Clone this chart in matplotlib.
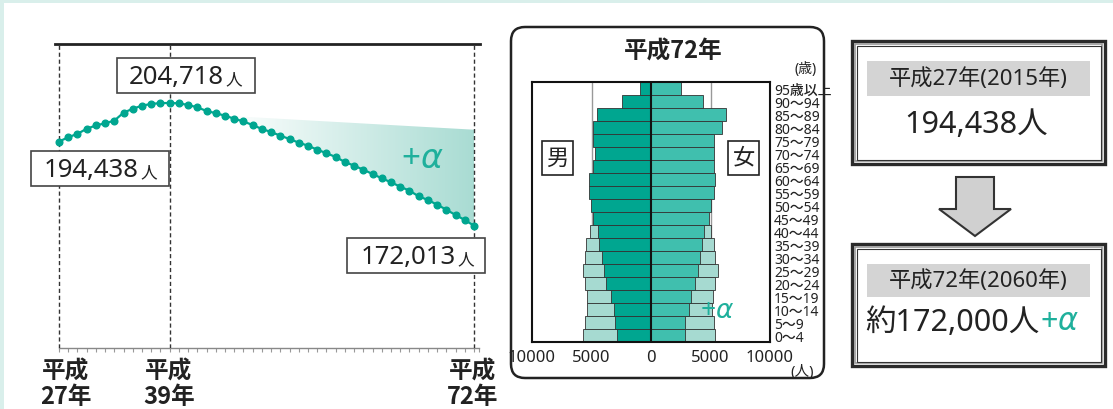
import numpy as np
import matplotlib
matplotlib.use('Agg')
from matplotlib import pyplot as plt
from matplotlib.patches import Rectangle, Polygon, FancyBboxPatch
from matplotlib.colors import LinearSegmentedColormap

plt.rcParams['font.family'] = ['Noto Sans', 'Noto Sans CJK JP']
plt.rcParams['mathtext.fontset'] = 'dejavusans'

# population trend, 平成27年 .. 平成72年
years = list(range(27, 73))
population = [194438, 195595, 196494, 197856, 198730, 199321, 200015, 202148,
              203176, 204024, 204461, 204700, 204718, 204640, 204185, 203572,
              202586, 202000, 201334, 200534, 199788, 198855, 197789, 196990,
              196004, 195124, 194138, 193339, 192273, 191340, 190327, 188994,
              188008, 186942, 185797, 184650, 183584, 182412, 181346, 179854,
              178868, 177615, 176283, 174870, 173537, 172013]
alpha_start_year = 45
alpha_top_2060 = 197600

# population pyramid 平成72年 (bottom to top)
age_labels = ['0～4', '5～9', '10～14', '15～19', '20～24', '25～29', '30～34',
              '35～39', '40～44', '45～49', '50～54', '55～59', '60～64',
              '65～69', '70～74', '75～79', '80～84', '85～89', '90～94', '95歳以上']
male = [2830, 3000, 3080, 3330, 3750, 3920, 4120, 4340, 4480, 4900, 5040,
        5240, 5240, 4900, 4730, 4870, 4870, 4540, 2440, 900]
female = [2830, 2830, 3170, 3330, 3730, 3920, 4090, 4290, 4480, 4850, 5010,
          5320, 5350, 5320, 5320, 5320, 5990, 6330, 4340, 2550]
# with +α (ages 0-44)
male_alpha = [5710, 5520, 5380, 5380, 5520, 5710, 5570, 5430, 5100]
female_alpha = [5410, 5270, 5130, 5180, 5350, 5630, 5410, 5270, 5070]
pyr_ticks = [-10000, -5000, 0, 5000, 10000]
pyr_ticklabels = ['10000', '5000', '0', '5000', '10000']

W, H = 1113, 410
TEAL = '#00a690'
TEAL_F = '#40bfae'
LIGHT = '#a6dad1'
ALPHA_TXT = '#1fb09c'
CJK = ['Noto Sans CJK JP', 'DejaVu Sans']
PLUS_ALPHA = '+$\\alpha$'

fig = plt.figure(figsize=(W / 100, H / 100), dpi=100)
fig.patch.set_facecolor('#d9efeb')


def px_axes(x0, y0, x1, y1, z):
    return fig.add_axes([x0 / W, (H - y1) / H, (x1 - x0) / W, (y1 - y0) / H], zorder=z)


# white panel
bg = px_axes(0, 0, W, H, 0)
bg.set_xlim(0, W); bg.set_ylim(H, 0); bg.axis('off')
bg.add_patch(Rectangle((4, 4), W, H, facecolor='white', edgecolor='none'))

# ---------------- line chart ----------------
ax1 = px_axes(55, 45, 480, 349, 1)
ax1.patch.set_alpha(0)
ax1.plot(years, population, color=TEAL, lw=1.6, marker='o', ms=4.8, zorder=4)

i0 = years.index(alpha_start_year)
verts = list(zip(years[i0:], population[i0:])) + [(72, alpha_top_2060)]
poly = Polygon(verts, closed=True, facecolor='none', edgecolor='none')
ax1.add_patch(poly)
cmap = LinearSegmentedColormap.from_list('g', ['#ffffff', '#a9dcd3'])
grad = np.linspace(0, 1, 256).reshape(1, -1)
im = ax1.imshow(grad, extent=[alpha_start_year, 72, 170000, 205000],
                aspect='auto', cmap=cmap, origin='lower', zorder=2)
im.set_clip_path(poly)

for yr in (27, 39, 72):
    ax1.axvline(yr, color='#333333', lw=1, ls=(0, (3, 2)), zorder=3)

ax1.set_xlim(27 - 4 / 9.222, 72 + 6 / 9.222)
ax1.set_ylim(139425, 220442)
for s in ('left', 'right'):
    ax1.spines[s].set_visible(False)
ax1.spines['top'].set_linewidth(2)
ax1.spines['top'].set_color('#222222')
ax1.spines['bottom'].set_color('#888888')
ax1.spines['bottom'].set_linewidth(1)
ax1.spines['bottom'].set_bounds(27, 72.5)
ax1.set_xticks(years + [72.5])
ax1.tick_params(axis='x', direction='out', length=3, width=0.8, color='#999999',
                labelbottom=False)
ax1.set_yticks([])

# ---------------- pyramid ----------------
ax2 = px_axes(532, 83, 770, 343, 1)
y = np.arange(len(age_labels))
na = len(male_alpha)
for gx in (-5000, 5000):
    ax2.axvline(gx, color='#999999', lw=1, zorder=0)
ax2.barh(y[:na], [-v for v in male_alpha], height=1, color=LIGHT,
         edgecolor='#333333', lw=0.6, zorder=1)
ax2.barh(y[:na], female_alpha, height=1, color=LIGHT,
         edgecolor='#333333', lw=0.6, zorder=1)
ax2.barh(y, [-v for v in male], height=1, color=TEAL, edgecolor='#333333',
         lw=0.6, zorder=2)
ax2.barh(y, female, height=1, color=TEAL_F, edgecolor='#333333', lw=0.6, zorder=2)
ax2.axvline(0, color='#111111', lw=1.5, zorder=3)
ax2.set_xlim(-10000, 10000)
ax2.set_ylim(-0.5, len(age_labels) - 0.5)
ax2.set_xticks(pyr_ticks)
ax2.set_xticklabels(pyr_ticklabels, fontsize=12, fontweight='medium', color='#222222')
ax2.set_yticks(y)
ax2.set_yticklabels(age_labels, fontsize=10, fontweight='medium', color='#222222')
ax2.yaxis.tick_right()
ax2.tick_params(axis='both', length=0)
ax2.tick_params(axis='x', pad=5)
ax2.tick_params(axis='y', pad=3)
for s in ax2.spines.values():
    s.set_linewidth(1.5)
    s.set_color('#111111')

# ---------------- overlay: boxes and texts ----------------
ov = px_axes(0, 0, W, H, 2)
ov.set_xlim(0, W); ov.set_ylim(H, 0); ov.axis('off')


def value_box(x0, y0, x1, y1, digits, xsplit):
    ov.add_patch(Rectangle((x0, y0), x1 - x0, y1 - y0, facecolor='white',
                           edgecolor='#444444', lw=1.2))
    yc = (y0 + y1) / 2
    ov.text(xsplit, yc + 1, digits, fontsize=18.5, ha='right', va='center', color='#222222')
    ov.text(xsplit + 1, yc + 4, '人', fontsize=12, ha='left', va='center', color='#222222')


value_box(117, 59, 255, 94, '204,718', 224)
value_box(31, 152, 169, 187, '194,438', 139)
value_box(347, 239, 485, 274, '172,013', 456)
ov.text(422, 160, PLUS_ALPHA, fontsize=24, color=ALPHA_TXT, ha='center', va='center')

for xc, yr in ((66, '27年'), (169, '39年'), (473, '72年')):
    ov.text(xc, 372, '平成', fontsize=17, fontweight='bold', family=CJK,
            ha='center', va='center', color='#222222')
    ov.text(xc, 397, yr, fontsize=17, fontweight='bold', family=CJK,
            ha='center', va='center', color='#222222')

# pyramid frame and labels
ov.add_patch(FancyBboxPatch((511, 28), 313, 351, boxstyle='round,pad=0,rounding_size=14',
                            facecolor='none', edgecolor='#222222', lw=1.8))
ov.text(673, 52, '平成72年', fontsize=17, fontweight='bold', family=CJK,
        ha='center', va='center', color='#222222')
ov.text(806, 70, '(歳)', fontsize=10, ha='center', va='center', color='#222222')
ov.text(802, 373, '(人)', fontsize=10.5, ha='center', va='center', color='#222222')
for x0, ch in ((542, '男'), (728, '女')):
    ov.add_patch(Rectangle((x0, 142), 31, 34, facecolor='white', edgecolor='#222222', lw=1.2))
    ov.text(x0 + 15.5, 159, ch, fontsize=16, ha='center', va='center', color='#222222')
ov.text(717, 311, PLUS_ALPHA, fontsize=19, color=ALPHA_TXT, ha='center', va='center')


def summary_box(y0, y1, band0, band1, title):
    ov.add_patch(Rectangle((852, y0), 253, y1 - y0, facecolor='white',
                           edgecolor='#2a2a2a', lw=2.4))
    ov.add_patch(Rectangle((855, y0 + 3), 247, y1 - y0 - 6, facecolor='none',
                           edgecolor='#9a9a9a', lw=1.2))
    ov.add_patch(Rectangle((856.5, y0 + 4.5), 244, y1 - y0 - 9, facecolor='none',
                           edgecolor='#333333', lw=0.8))
    ov.add_patch(Rectangle((867, band0), 223, band1 - band0, facecolor='#d4d4d4',
                           edgecolor='none'))
    ov.text(978, (band0 + band1) / 2, title, fontsize=16,
            ha='center', va='center', color='#222222')


summary_box(42, 165, 62, 97, '平成27年(2015年)')
ov.text(976, 125, '194,438人', fontsize=22, ha='center', va='center', color='#222222')

ov.add_patch(Polygon([(956, 178), (994, 178), (994, 210), (1011, 210), (975, 237),
                      (939, 210), (956, 210)], closed=True, facecolor='#d0d0d0',
                     edgecolor='#333333', lw=1.5))

summary_box(245, 367, 265, 298, '平成72年(2060年)')
ov.text(1039, 323, '約172,000人', fontsize=22, ha='right', va='center', color='#222222')
ov.text(1040, 322, PLUS_ALPHA, fontsize=22, ha='left', va='center', color=ALPHA_TXT)

fig.savefig('out.png', dpi=100, facecolor=fig.get_facecolor())
